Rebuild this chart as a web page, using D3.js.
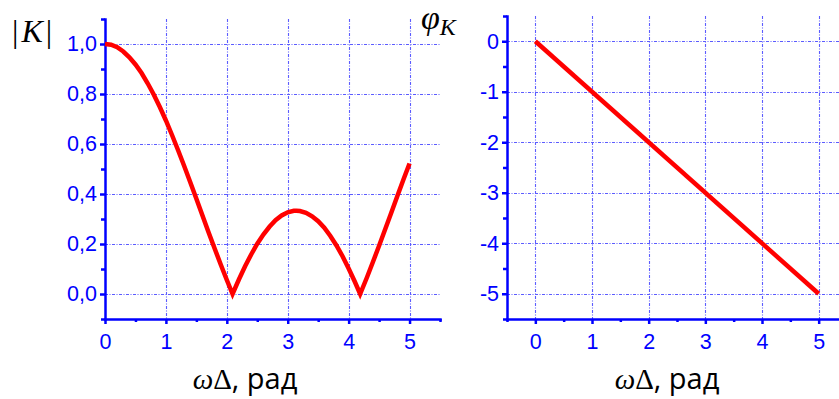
<!DOCTYPE html>
<html>
<head>
<meta charset="utf-8">
<script src="https://cdn.jsdelivr.net/npm/d3@7"></script>
<style>
  html, body { margin: 0; padding: 0; background: #fff; }
  svg { display: block; }
</style>
</head>
<body>
<svg id="chart" width="839" height="399"></svg>
<script>
// Magnitude |K| of the transfer function versus ωΔ (rad)
const magX = [0, 0.1, 0.2, 0.3, 0.4, 0.5, 0.6, 0.7, 0.8, 0.9, 1.0, 1.1, 1.2, 1.3, 1.4, 1.5,
  1.6, 1.7, 1.8, 1.9, 2.0, 2.094, 2.2, 2.3, 2.4, 2.5, 2.6, 2.7, 2.8, 2.9, 3.0, 3.1, 3.142,
  3.2, 3.3, 3.4, 3.5, 3.6, 3.7, 3.8, 3.9, 4.0, 4.1, 4.189, 4.3, 4.4, 4.5, 4.6, 4.7, 4.8, 4.9, 5.0];
const magK = [1.000, 0.997, 0.987, 0.970, 0.947, 0.918, 0.884, 0.843, 0.798, 0.748, 0.694,
  0.636, 0.575, 0.512, 0.447, 0.381, 0.314, 0.247, 0.182, 0.118, 0.056, 0.000, 0.059, 0.111,
  0.158, 0.201, 0.238, 0.269, 0.295, 0.314, 0.327, 0.333, 0.333, 0.332, 0.325, 0.311, 0.291,
  0.265, 0.232, 0.194, 0.151, 0.102, 0.050, 0.000, 0.066, 0.129, 0.193, 0.259, 0.325, 0.392,
  0.458, 0.522];

// Phase φ_K versus ωΔ (rad)
const phaseX = [0, 5];
const phaseK = [0, -5];

// Tick values and labels
const magYTicks = [0, 0.2, 0.4, 0.6, 0.8, 1.0];
const magYLabels = ["0,0", "0,2", "0,4", "0,6", "0,8", "1,0"];
const magYMinor = [-0.1, 0.1, 0.3, 0.5, 0.7, 0.9, 1.1];
const magXTicks = [0, 1, 2, 3, 4, 5];
const magXMinor = [0.5, 1.5, 2.5, 3.5, 4.5, 5.5];
const phaseYTicks = [0, -1, -2, -3, -4, -5];
const phaseYLabels = ["0", "-1", "-2", "-3", "-4", "-5"];
const phaseYMinor = [0.5, -0.5, -1.5, -2.5, -3.5, -4.5, -5.5];
const phaseXTicks = [0, 1, 2, 3, 4, 5];
const phaseXMinor = [-0.5, 0.5, 1.5, 2.5, 3.5, 4.5, 5.5];
const xTitle = ["ω", "Δ", ", рад"];

const AXIS = "#0000ff";
const GRID = "#5c5cff";
const CURVE = "#ff0000";
const tickFont = "'Liberation Sans', Arial, sans-serif";

const svg = d3.select("#chart");
svg.append("rect").attr("width", 839).attr("height", 399).attr("fill", "#fff");

function panel(opts) {
  const { x, y, xTicks, xMinor, yTicks, yLabels, yMinor, gridX, gridY, gridRight } = opts;
  const g = svg.append("g");
  const [x0] = x.range();
  const [y0, y1] = y.range();

  // dotted grid
  const grid = g.append("g").attr("stroke", GRID).attr("stroke-width", 1.1)
    .attr("stroke-dasharray", "3,1.5,1,1.5").attr("fill", "none");
  grid.selectAll("line.h").data(gridY).join("line").attr("class", "h")
    .attr("x1", x0).attr("x2", gridRight)
    .attr("y1", d => Math.round(y(d)) + 0.5).attr("y2", d => Math.round(y(d)) + 0.5);
  grid.selectAll("line.v").data(gridX).join("line").attr("class", "v")
    .attr("y1", y1).attr("y2", y0)
    .attr("x1", d => Math.round(x(d)) + 0.5).attr("x2", d => Math.round(x(d)) + 0.5);

  // bottom axis: major + minor ticks
  const ax = g.append("g").attr("transform", `translate(0,${y0})`)
    .call(d3.axisBottom(x).tickValues(xTicks).tickSize(5).tickSizeOuter(0).tickPadding(10)
      .tickFormat(d3.format("d")));
  const axm = g.append("g").attr("transform", `translate(0,${y0})`)
    .call(d3.axisBottom(x).tickValues(xMinor).tickSize(3).tickSizeOuter(0).tickFormat(""));
  axm.select(".domain").remove();

  // left axis: major + minor ticks
  const ay = g.append("g").attr("transform", `translate(${x0},0)`)
    .call(d3.axisLeft(y).tickValues(yTicks).tickSize(5).tickSizeOuter(0).tickPadding(3)
      .tickFormat((d, i) => yLabels[i]));
  const aym = g.append("g").attr("transform", `translate(${x0},0)`)
    .call(d3.axisLeft(y).tickValues(yMinor).tickSize(4).tickSizeOuter(0).tickFormat(""));
  aym.select(".domain").remove();

  [ax, axm, ay, aym].forEach(a => {
    a.selectAll("path, line").attr("stroke", AXIS).attr("stroke-width", 2.5);
    a.selectAll("text").attr("fill", AXIS).attr("font-family", tickFont).attr("font-size", 21.5);
  });
  ax.select(".domain").attr("stroke-linecap", "square");
  ay.select(".domain").attr("stroke-linecap", "square");
  return g;
}

// ---- left panel: |K| ----
const xL = d3.scaleLinear().domain([0, 5.5]).range([105, 440]);
const yL = d3.scaleLinear().domain([-0.1, 1.1]).range([319, 19]);
const gL = panel({
  x: xL, y: yL, xTicks: magXTicks, xMinor: magXMinor, yTicks: magYTicks,
  yLabels: magYLabels, yMinor: magYMinor, gridX: [1, 2, 3, 4, 5], gridY: magYTicks, gridRight: 440
});
gL.append("path")
  .datum(magX.map((v, i) => [v, magK[i]]))
  .attr("fill", "none").attr("stroke", CURVE).attr("stroke-width", 4.5)
  .attr("stroke-linejoin", "miter").attr("stroke-miterlimit", 10)
  .attr("d", d3.line().x(d => xL(d[0])).y(d => yL(d[1])));

// ---- right panel: φ_K ----
const xR = d3.scaleLinear().domain([-0.5, 5.5]).range([507, 847]);
const yR = d3.scaleLinear().domain([-5.5, 0.5]).range([319, 16]);
const gR = panel({
  x: xR, y: yR, xTicks: phaseXTicks, xMinor: phaseXMinor, yTicks: phaseYTicks,
  yLabels: phaseYLabels, yMinor: phaseYMinor, gridX: phaseXTicks, gridY: phaseYTicks, gridRight: 839
});
gR.append("path")
  .datum(phaseX.map((v, i) => [v, phaseK[i]]))
  .attr("fill", "none").attr("stroke", CURVE).attr("stroke-width", 4.5)
  .attr("d", d3.line().x(d => xR(d[0])).y(d => yR(d[1])));

// ---- axis titles ----
function xAxisTitle(cx) {
  const t = svg.append("text").attr("x", cx).attr("y", 389).attr("text-anchor", "middle")
    .attr("fill", "#000").attr("font-size", 29);
  t.append("tspan").attr("font-family", "'Liberation Serif', 'DejaVu Serif', serif")
    .attr("font-style", "italic").text(xTitle[0]);
  t.append("tspan").attr("font-family", "'Liberation Serif', 'DejaVu Serif', serif").text(xTitle[1]);
  t.append("tspan").attr("font-family", "'Open Sans', sans-serif").text(xTitle[2]);
}
xAxisTitle(245);
xAxisTitle(667);

// |K|
const kt = svg.append("text").attr("x", 12).attr("y", 42)
  .attr("font-family", "'Liberation Serif', 'DejaVu Serif', serif").attr("font-size", 32).attr("fill", "#000");
kt.append("tspan").text("|");
kt.append("tspan").attr("font-style", "italic").attr("dx", 3).text("K");
kt.append("tspan").attr("dx", 3).text("|");

// φ_K
const pt = svg.append("text").attr("x", 421).attr("y", 29)
  .attr("font-family", "'Liberation Serif', 'DejaVu Serif', serif").attr("fill", "#000");
pt.append("tspan").attr("font-style", "italic").attr("font-size", 34).text("φ");
pt.append("tspan").attr("font-style", "italic").attr("font-size", 24).attr("dy", 6).text("K");
</script>
</body>
</html>
